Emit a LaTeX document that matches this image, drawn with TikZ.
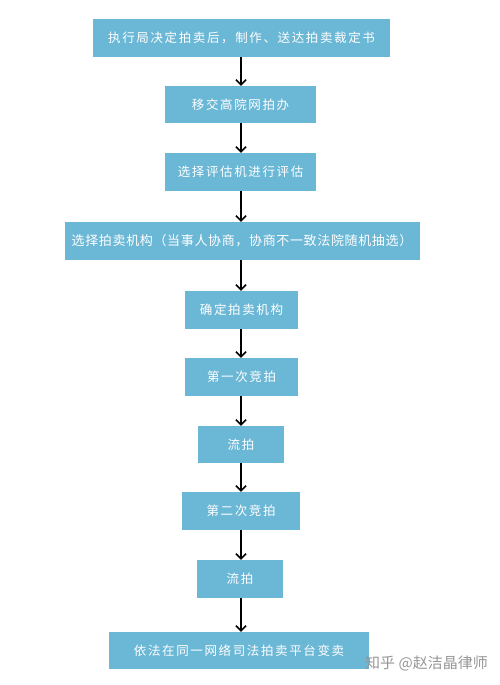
\documentclass[tikz,border=0pt]{standalone}
\usepackage{fontspec}
\setmainfont{Noto Sans CJK SC}
\newfontfamily\cjkw[LetterSpace=13]{Noto Sans CJK SC}
\newfontfamily\cjkm[LetterSpace=5]{Noto Sans CJK SC}
\newfontfamily\cjkn{Noto Sans CJK SC}
\usetikzlibrary{arrows.meta}
\definecolor{boxblue}{RGB}{107,183,214}
\definecolor{wm}{RGB}{150,150,150}
\tikzset{
  flowbox/.style={fill=boxblue, draw=none, inner sep=0pt, text=white, font=\cjkw\fontsize{12.5}{14}\selectfont},
  flowarrow/.style={line width=1.6pt, black, -{Straight Barb[length=5pt,width=10pt,line width=1.6pt]}}
}
\newcommand{\flownode}[6]{\node[flowbox, minimum width=#3-#2, minimum height=#5-#4] (#1) at ({(#2+#3)/2},{(#4+#5)/2}) {#6};}
\begin{document}
\begin{tikzpicture}[x=1pt,y=-1pt]
\useasboundingbox (0,0) rectangle (500,685);
\flownode{b1}{93}{390}{19}{57}{执行局决定拍卖后，制作、送达拍卖裁定书}
\flownode{b2}{165}{316}{86}{123}{移交高院网拍办}
\flownode{b3}{165}{316}{153}{191}{选择评估机进行评估}
\node[flowbox, font=\cjkm\fontsize{13}{15}\selectfont, minimum width=355, minimum height=38] (b4) at (242,241) {选择拍卖机构（当事人协商，协商不一致法院随机抽选）};
\flownode{b5}{185}{298}{291}{329}{确定拍卖机构}
\flownode{b6}{185}{298}{358}{396}{第一次竞拍}
\flownode{b7}{198}{284}{426}{463}{流拍}
\flownode{b8}{182}{300}{492}{530}{第二次竞拍}
\flownode{b9}{197}{283}{560}{598}{流拍}
\flownode{b10}{109}{369}{632}{669}{依法在同一网络司法拍卖平台变卖}
\foreach \a/\b in {b1/b2,b2/b3,b3/b4,b4/b5,b5/b6,b6/b7,b7/b8,b8/b9,b9/b10}{
  \draw[flowarrow] (\a.south -| 241,0) -- (\b.north -| 241,0);
}
\node[text=wm, font=\cjkn\fontsize{15}{17}\selectfont, anchor=west, inner sep=0pt] (wmk) at (365,663) {知乎 @赵洁晶律师};
\end{tikzpicture}
\end{document}
